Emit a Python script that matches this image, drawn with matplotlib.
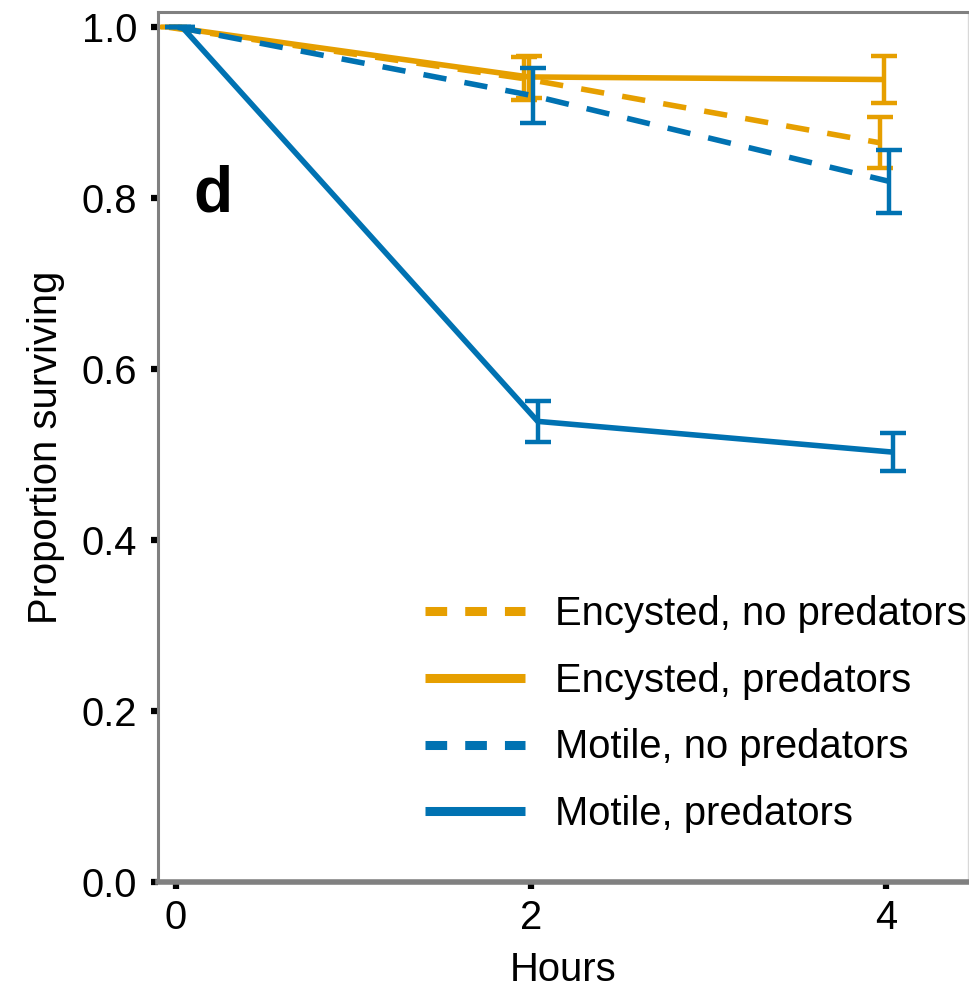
import matplotlib
matplotlib.use("Agg")
import matplotlib.pyplot as plt
from matplotlib.lines import Line2D

plt.rcParams['font.family'] = ['Liberation Sans', 'DejaVu Sans']

hours = [0, 2, 4]
labels = ["Encysted, no predators", "Encysted, predators",
          "Motile, no predators", "Motile, predators"]
enc_nopred = [1.0, 0.940, 0.865]
enc_nopred_se = [0.0, 0.025, 0.030]
enc_pred = [1.0, 0.942, 0.939]
enc_pred_se = [0.0, 0.025, 0.027]
mot_nopred = [1.0, 0.920, 0.820]
mot_nopred_se = [0.0, 0.032, 0.037]
mot_pred = [1.0, 0.539, 0.503]
mot_pred_se = [0.0, 0.024, 0.022]

orange = "#E69F00"
blue = "#0072B2"

series = [
    (enc_nopred, enc_nopred_se, orange, "dashed", -0.0375),
    (enc_pred, enc_pred_se, orange, "solid", -0.0125),
    (mot_nopred, mot_nopred_se, blue, "dashed", 0.0125),
    (mot_pred, mot_pred_se, blue, "solid", 0.0375),
]

FS = 28.8
fig = plt.figure(figsize=(9.7, 9.92), dpi=100)
W, H = 970, 992
ax = fig.add_axes([158 / W, (H - 882) / H, (968 - 158) / W, (882 - 12) / H])

for vals, se, col, ls, off in series:
    xs = [h + off for h in hours]
    ln, = ax.plot(xs, vals, color=col, lw=4.0, solid_capstyle='butt')
    if ls == "dashed":
        ln.set_dashes((4.2, 3.3))
        ln.set_dash_capstyle('butt')
    ax.errorbar(xs, vals, yerr=se, fmt='none', ecolor=col, elinewidth=3.2,
                capsize=9.5, capthick=3.2)

ax.set_xlim(-0.1, 4.46)
ax.set_ylim(0, 1.018)
ax.set_xticks([0, 2, 4])
ax.set_xticklabels(["0", "2", "4"])
ax.set_yticks([0.0, 0.2, 0.4, 0.6, 0.8, 1.0])
ax.set_yticklabels(["0.0", "0.2", "0.4", "0.6", "0.8", "1.0"])
ax.tick_params(axis='both', direction='out', length=5, width=4.5,
               color='black', labelsize=FS)
ax.tick_params(axis='y', pad=10)
ax.tick_params(axis='x', pad=7)

for s in ['left', 'top']:
    ax.spines[s].set_color('#808080')
    ax.spines[s].set_linewidth(2.2)
ax.spines['bottom'].set_color('#808080')
ax.spines['bottom'].set_linewidth(4)
ax.spines['right'].set_color('#d8d8d8')
ax.spines['right'].set_linewidth(1.0)

ax.set_xlabel("Hours", fontsize=FS, labelpad=10)
ax.set_ylabel("Proportion surviving", fontsize=FS, labelpad=12)

ax.text(0.21, 0.805, "d", fontsize=46, fontweight='bold', ha='center', va='center')

handles = []
for vals, se, col, ls, off in series:
    h = Line2D([0], [0], color=col, lw=6.5, solid_capstyle='butt')
    if ls == "dashed":
        h.set_dashes((2.4, 2.0))
        h.set_dash_capstyle('butt')
    handles.append(h)
ax.legend(handles, labels, loc='upper left', bbox_to_anchor=(0.33, 0.33),
          frameon=False, fontsize=FS, handlelength=2.5, handletextpad=0.75,
          labelspacing=0.72, borderpad=0, borderaxespad=0)

fig.savefig("out.png", dpi=100)
